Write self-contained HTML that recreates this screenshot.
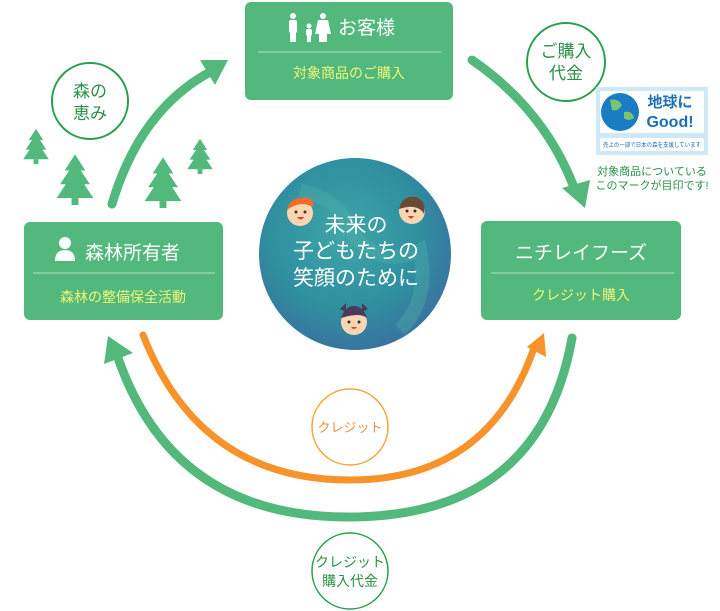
<!DOCTYPE html>
<html><head><meta charset="utf-8"><style>
body{margin:0;background:#fff;}
svg{display:block;}
text{font-family:"Liberation Sans","Noto Sans CJK JP",sans-serif;}
</style></head><body>
<svg width="720" height="611" viewBox="0 0 720 611" xmlns="http://www.w3.org/2000/svg">
<defs>
<radialGradient id="g" cx="45%" cy="40%" r="65%">
<stop offset="0" stop-color="#3fa6a8"/><stop offset="0.6" stop-color="#2f8f9f"/><stop offset="1" stop-color="#3a6fa0"/>
</radialGradient>
<g id="tree"><polygon points="0,-24 -9,-10 -5,-10 -13,2 -8,2 -16,14 16,14 8,2 13,2 5,-10 9,-10" fill="#52b87c"/><rect x="-3" y="14" width="6" height="6" fill="#52b87c"/></g>
</defs>
<use href="#tree" transform="translate(36,148) scale(0.8)"/>
<use href="#tree" transform="translate(75,182) scale(1.15)"/>
<use href="#tree" transform="translate(163,185) scale(1.15)"/>
<use href="#tree" transform="translate(200,158) scale(0.8)"/>
<path d="M112,204 Q140,110 210,72" fill="none" stroke="#52b87c" stroke-width="9" stroke-linecap="round"/>
<polygon points="228,60 200,60 215,85" fill="#52b87c"/>
<path d="M472,60 Q545,110 575,190" fill="none" stroke="#52b87c" stroke-width="9" stroke-linecap="round"/>
<polygon points="585,208 562,188 590,180" fill="#52b87c"/>
<path d="M143,335 Q200,480 350,480 Q490,480 535,345" fill="none" stroke="#f7932a" stroke-width="7" stroke-linecap="round"/>
<polygon points="544,333 527,347 546,357" fill="#f7932a"/>
<path d="M572,338 Q540,517 348,517 Q170,517 116,352" fill="none" stroke="#52b87c" stroke-width="9" stroke-linecap="round"/>
<polygon points="108,336 104,364 133,353" fill="#52b87c"/>

<rect x="245" y="2" width="208" height="98" rx="6" fill="#52b87c"/>
<line x1="258" y1="52" x2="441" y2="52" stroke="#b7e2c4" stroke-width="1"/>
<g fill="#fff">
<circle cx="293" cy="16" r="3"/><rect x="289" y="20" width="8" height="13" rx="2"/><rect x="290" y="30" width="6" height="12"/>
<circle cx="309" cy="26" r="2.5"/><rect x="306" y="29" width="6" height="7" rx="2"/><rect x="307" y="35" width="4" height="7"/>
<circle cx="323" cy="16" r="3"/><polygon points="318,20 328,20 331,34 315,34"/><rect x="319" y="33" width="8" height="9"/>
</g>
<text x="338" y="34" font-size="19" fill="#fff">お客様</text>
<text x="349" y="78" font-size="14" fill="#f1f57a" text-anchor="middle">対象商品のご購入</text>

<rect x="24" y="222" width="199" height="98" rx="6" fill="#52b87c"/>
<line x1="33" y1="273" x2="215" y2="273" stroke="#b7e2c4" stroke-width="1"/>
<circle cx="65" cy="243" r="6" fill="#fff"/><path d="M55,261 Q55,250 65,250 Q75,250 75,261 Z" fill="#fff"/>
<text x="85" y="259" font-size="19" fill="#fff">森林所有者</text>
<text x="123" y="302" font-size="14" fill="#f1f57a" text-anchor="middle">森林の整備保全活動</text>

<rect x="481" y="221" width="200" height="99" rx="6" fill="#52b87c"/>
<line x1="491" y1="273" x2="674" y2="273" stroke="#b7e2c4" stroke-width="1"/>
<text x="581" y="259" font-size="19" fill="#fff" text-anchor="middle">ニチレイフーズ</text>
<text x="581" y="300" font-size="14" fill="#f1f57a" text-anchor="middle">クレジット購入</text>

<circle cx="355" cy="254" r="96" fill="url(#g)"/>
<path d="M300,190 Q340,200 350,230 Q380,270 420,250 Q430,300 400,330" fill="none" stroke="#4fb0a8" stroke-width="14" opacity="0.4"/>
<text x="356" y="232" font-size="21" fill="#fff" text-anchor="middle">未来の</text>
<text x="356" y="258" font-size="21" fill="#fff" text-anchor="middle">子どもたちの</text>
<text x="356" y="285" font-size="21" fill="#fff" text-anchor="middle">笑顔のために</text>
<g>
<circle cx="300" cy="213" r="13" fill="#fbd6b0"/><path d="M287,210 Q290,195 310,198 Q315,203 313,207 Q300,200 287,210Z" fill="#f26b2a"/>
<circle cx="296" cy="212" r="1.5" fill="#333"/><circle cx="305" cy="212" r="1.5" fill="#333"/><path d="M297,217 Q301,222 304,217Z" fill="#e33"/>
<circle cx="412" cy="211" r="13" fill="#fbd6b0"/><path d="M399,209 Q402,195 416,197 Q427,201 424,214 Q418,203 399,209Z" fill="#6b4a35"/>
<circle cx="407" cy="211" r="1.5" fill="#333"/><circle cx="415" cy="211" r="1.5" fill="#333"/><path d="M408,216 Q411,221 414,216Z" fill="#e33"/>
<circle cx="354" cy="322" r="13" fill="#fbd6b0"/><path d="M341,318 Q345,306 354,306 Q363,306 367,318 Q360,312 341,318Z" fill="#4a3b5a"/>
<polygon points="340,309 346,303 346,312" fill="#4a3b5a"/><polygon points="368,309 362,303 362,312" fill="#4a3b5a"/>
<circle cx="349" cy="322" r="1.5" fill="#333"/><circle cx="359" cy="322" r="1.5" fill="#333"/><path d="M351,327 Q354,331 357,327Z" fill="#e33"/>
</g>

<circle cx="90" cy="101" r="38" fill="#fff" stroke="#2aa04f" stroke-width="2"/>
<text x="90" y="97" font-size="17" fill="#2a8f45" text-anchor="middle">森の</text>
<text x="90" y="119" font-size="17" fill="#2a8f45" text-anchor="middle">恵み</text>
<circle cx="566" cy="62" r="39" fill="#fff" stroke="#2aa04f" stroke-width="2"/>
<text x="566" y="57" font-size="17" fill="#2a8f45" text-anchor="middle">ご購入</text>
<text x="566" y="79" font-size="17" fill="#2a8f45" text-anchor="middle">代金</text>
<circle cx="350" cy="427" r="38" fill="#fff" stroke="#f7a33a" stroke-width="1.5"/>
<text x="350" y="432" font-size="13" fill="#ef8f3a" text-anchor="middle">クレジット</text>
<circle cx="350" cy="571" r="38" fill="#fff" stroke="#2aa04f" stroke-width="1.5"/>
<text x="350" y="567" font-size="14" fill="#2a8f45" text-anchor="middle">クレジット</text>
<text x="350" y="586" font-size="14" fill="#2a8f45" text-anchor="middle">購入代金</text>

<rect x="596" y="87" width="112" height="68" fill="#cde8f7"/>
<rect x="600" y="91" width="104" height="42" fill="#fff"/>
<circle cx="620" cy="112" r="19" fill="#1a7cc4"/>
<path d="M610,100 Q618,98 622,105 Q618,112 612,110Z M624,112 Q632,110 634,118 Q628,122 624,118Z" fill="#7cc36b"/>
<text x="670" y="107" font-size="15" font-weight="bold" fill="#1a6fb8" text-anchor="middle">地球に</text>
<text x="670" y="127" font-size="16" font-weight="bold" fill="#1a6fb8" text-anchor="middle">Good!</text>
<rect x="600" y="138" width="104" height="13" fill="#fff"/>
<text x="603" y="147" font-size="6" fill="#1a6fb8" textLength="98" lengthAdjust="spacingAndGlyphs">売上の一部で日本の森を支援しています</text>
<text x="652" y="175" font-size="11" fill="#2a8f45" text-anchor="middle">対象商品についている</text>
<text x="652" y="189" font-size="11" fill="#2a8f45" text-anchor="middle">このマークが目印です!</text>
</svg>
</body></html>
